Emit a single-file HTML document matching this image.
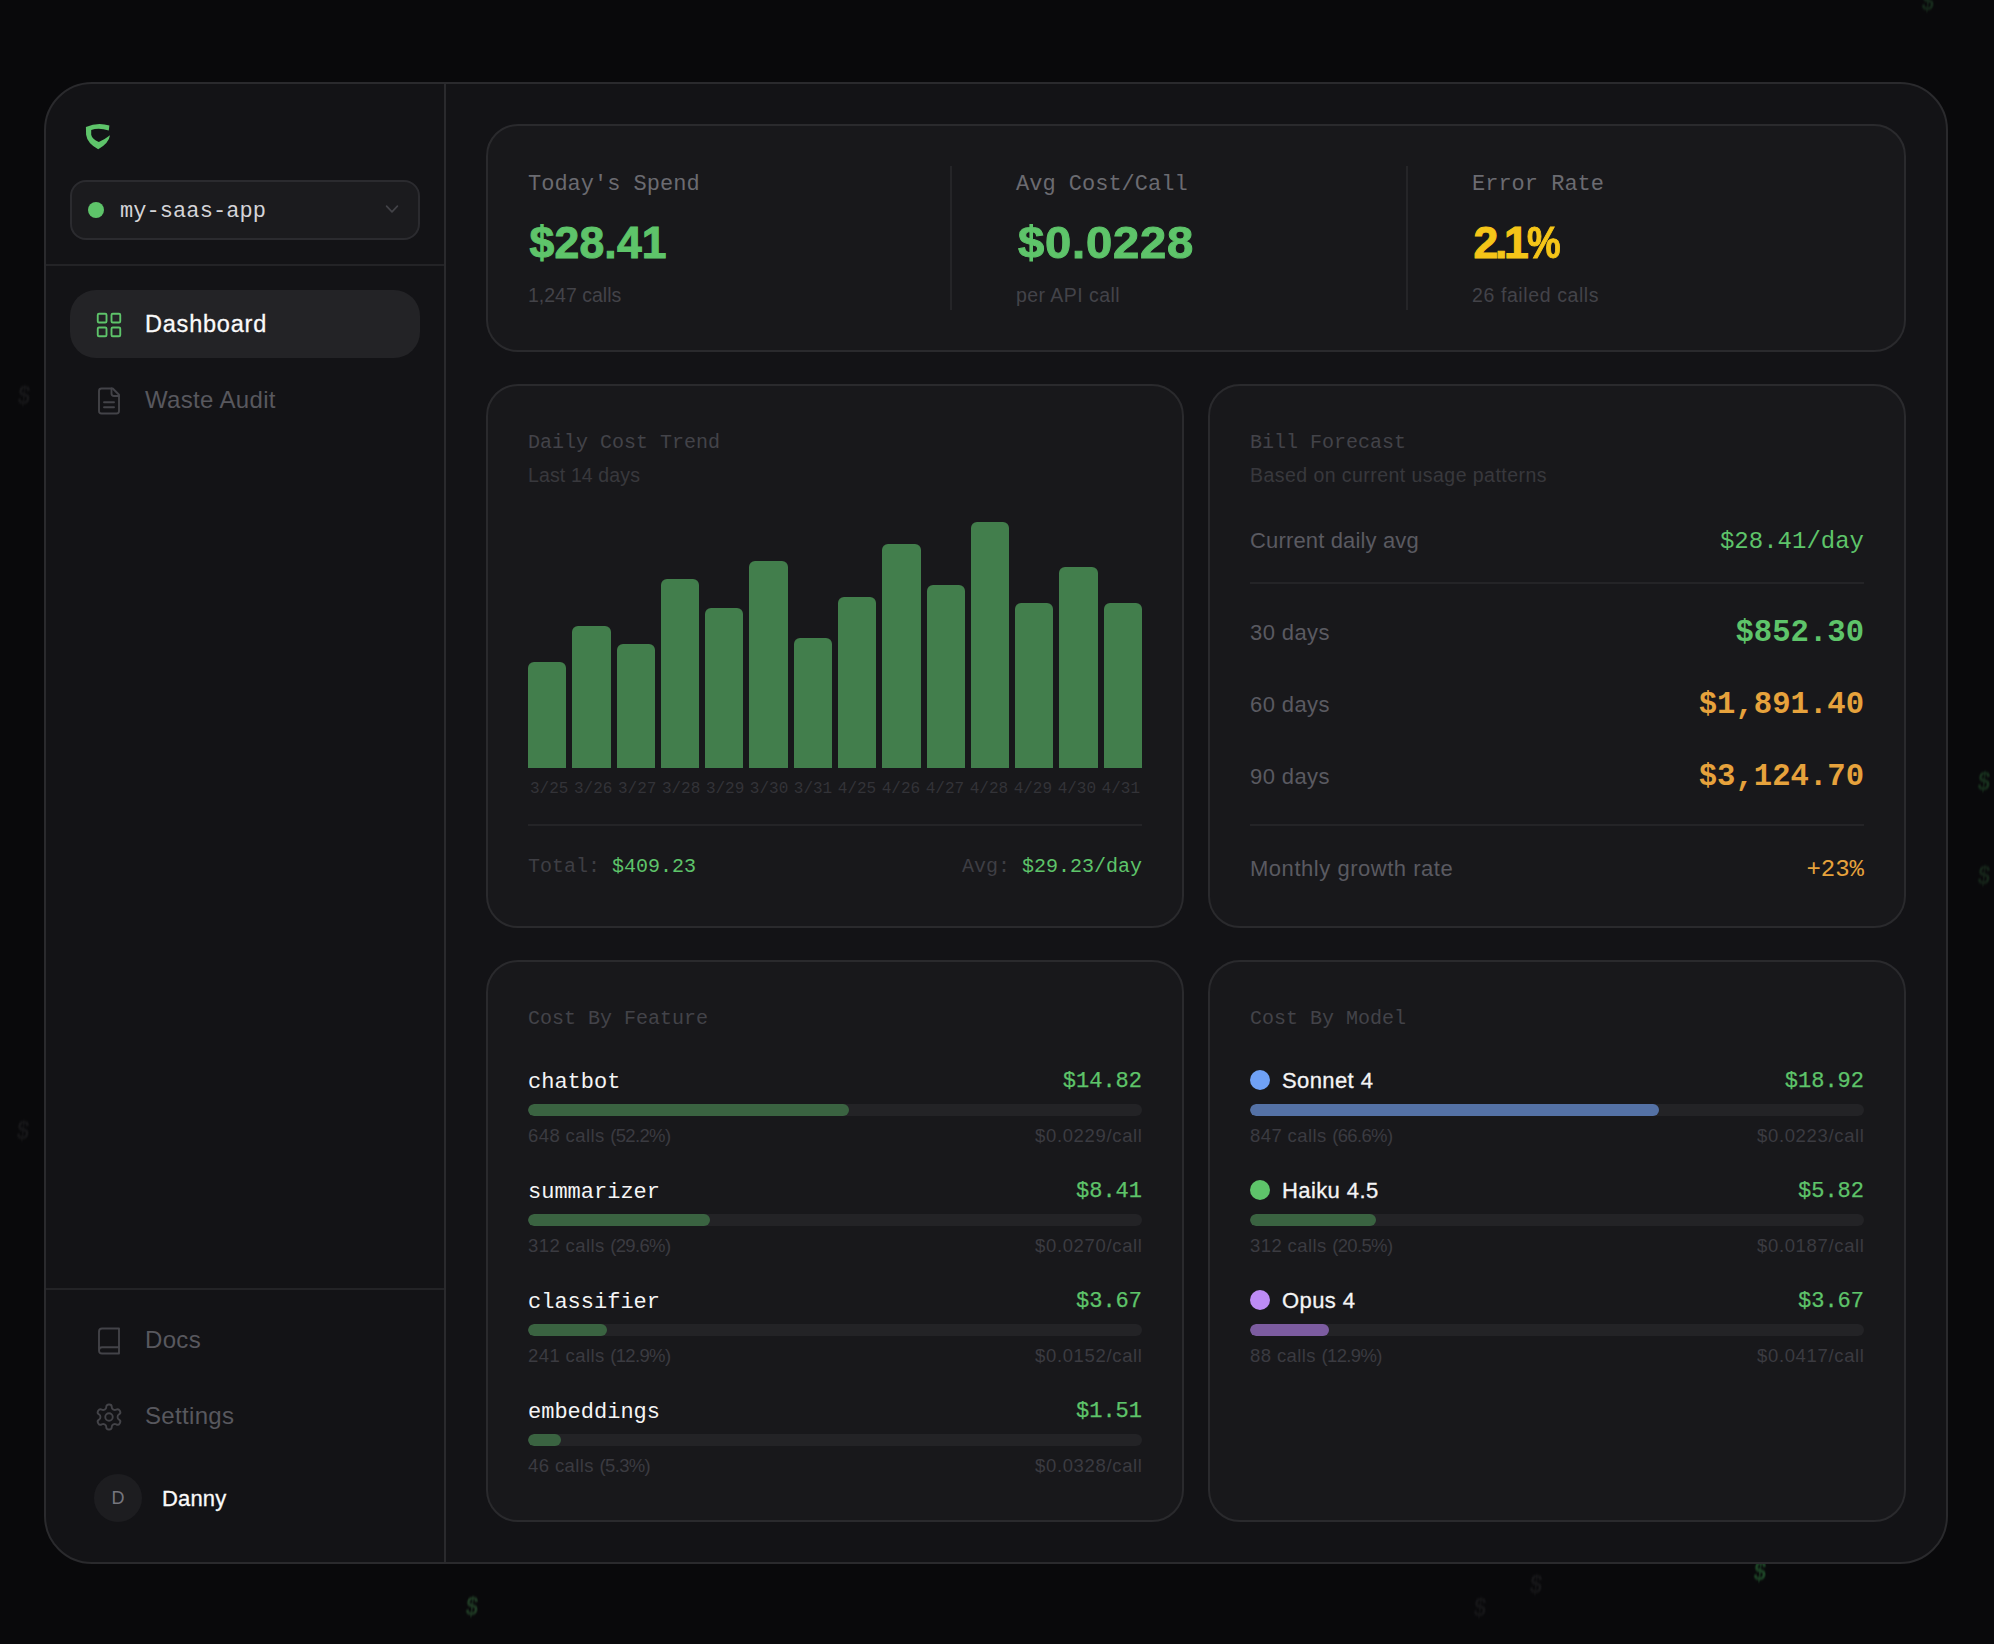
<!DOCTYPE html>
<html lang="en">
<head>
<meta charset="utf-8">
<title>Dashboard</title>
<style>
*{box-sizing:border-box;margin:0;padding:0}
html,body{width:1994px;height:1644px;overflow:hidden;background:#09090b}
body{position:relative;font-family:"Liberation Sans",Arial,sans-serif;color:#fff;-webkit-font-smoothing:antialiased}
.mono{font-family:"Liberation Mono","DejaVu Sans Mono",monospace}
.abs{position:absolute}
.bgd{position:absolute;font-weight:700;font-size:25px;line-height:24px;width:20px;height:24px;text-align:center;filter:blur(.8px);transform:skewX(-6deg) scaleX(.88)}
#panel{position:absolute;left:44px;top:82px;width:1904px;height:1482px;border:2px solid #2a2a2d;border-radius:48px;background:#131316;overflow:hidden}
/* coordinates inside #panel are relative to its padding box: page x-46, y-84 */
#side{position:absolute;left:0;top:0;width:400px;height:1478px;border-right:2px solid #2a2a2d}
.hr{position:absolute;left:0;width:398px;height:2px;background:#232326}
#sel{position:absolute;left:24px;top:96px;width:350px;height:60px;border:2px solid #2b2b2f;border-radius:16px;background:#1b1b1e}
#sel .dot{position:absolute;left:16px;top:20px;width:16px;height:16px;border-radius:50%;background:#5ec46a}
#sel .nm{position:absolute;left:48px;top:17px;font-size:22px;line-height:26px;color:#d4d4d8;letter-spacing:0.07px}
.nav{position:absolute;left:24px;width:350px;height:68px;border-radius:26px}
.nav.on{background:#232326}
.nav svg{position:absolute;left:24px;top:19.6px}
.nav .t{position:absolute;left:75px;top:20px;font-size:24px;line-height:28px;color:#58585e;white-space:nowrap;letter-spacing:.33px}
.nav.on .t{color:#fafafa;font-size:23.5px;letter-spacing:.78px;-webkit-text-stroke:.3px #fafafa}
.card{position:absolute;border:2px solid #2a2a2d;border-radius:32px;background:#18181b}
.lbl{position:absolute;font-size:22px;line-height:26px;color:#6b6b71;white-space:nowrap}
.val{position:absolute;font-size:44.5px;line-height:50px;font-weight:700;color:#5ec46a;white-space:nowrap;letter-spacing:.2px;-webkit-text-stroke:1px #5ec46a}
.sub{position:absolute;font-size:19.5px;line-height:24px;color:#434349;white-space:nowrap}
.vr{position:absolute;width:2px;background:#252528}
.ttl{position:absolute;left:40px;font-size:20px;line-height:24px;color:#434349;white-space:nowrap}
.stt{position:absolute;left:40px;font-size:19.5px;line-height:24px;color:#38383d;white-space:nowrap}
.hl{position:absolute;left:40px;width:614px;height:2px;background:#242427}
.g{color:#5ec46a}.o{color:#e6a23c}
#bars{position:absolute;left:40px;top:126px;width:614px;height:256px;display:flex;align-items:flex-end;gap:6px}
#bars i{display:block;flex:1;background:#427e4c;border-radius:6px 6px 0 0}
#dates{position:absolute;left:42px;top:393px;width:610px;display:flex;justify-content:space-between;font-size:16px;line-height:20px;color:#333338}
#dates b{font-weight:400;text-align:center;white-space:nowrap}
.ft{position:absolute;font-size:20px;line-height:24px;color:#3e3e44;white-space:nowrap}
.rl{position:absolute;left:40px;font-size:22px;line-height:28px;color:#5a5a61;white-space:nowrap}
.rv{position:absolute;right:40px;font-size:24px;line-height:28px;white-space:nowrap}
.rb{position:absolute;right:40px;font-size:30.6px;line-height:36px;font-weight:700;white-space:nowrap}
.row{position:absolute;left:40px;width:614px;height:90px}
.row .n{position:absolute;left:0;top:3px;font-size:22px;line-height:28px;color:#f4f4f5;white-space:nowrap}
.row .n.m{left:32px;top:1px;font-weight:400;letter-spacing:.4px;-webkit-text-stroke:.3px #f4f4f5}
.row em{position:absolute;left:0;top:4px;width:20px;height:20px;border-radius:50%}
.row .p{position:absolute;right:0;top:2px;font-size:22px;line-height:28px;color:#5ec46a;white-space:nowrap;-webkit-text-stroke:.25px #5ec46a}
.row .tr{position:absolute;left:0;top:38px;width:614px;height:12px;border-radius:6px;background:#232326;overflow:hidden}
.row .tr u{display:block;height:12px;border-radius:6px;background:#3a6341;text-decoration:none}
.row .c{position:absolute;left:0;top:57.5px;font-size:18.5px;line-height:24px;color:#3b3b41;white-space:nowrap;letter-spacing:.4px}
.row .pc{position:absolute;right:-.6px;top:57.5px;font-size:18.5px;line-height:24px;color:#3b3b41;white-space:nowrap;letter-spacing:.65px}
.row .c s{text-decoration:none;letter-spacing:-.64px}
</style>
</head>
<body>
<div class="bgd" style="left:14px;top:383px;color:#161618">$</div>
<div class="bgd" style="left:13px;top:1118px;color:#161618">$</div>
<div class="bgd" style="left:462px;top:1594px;color:#1f3a24">$</div>
<div class="bgd" style="left:1918px;top:-11px;color:#16291b">$</div>
<div class="bgd" style="left:1974px;top:769px;color:#17301d">$</div>
<div class="bgd" style="left:1974px;top:863px;color:#152419">$</div>
<div class="bgd" style="left:1750px;top:1559px;color:#1d4426">$</div>
<div class="bgd" style="left:1526px;top:1572px;color:#161618">$</div>
<div class="bgd" style="left:1470px;top:1595px;color:#151517">$</div>
<div id="panel">
  <div id="side">
    <svg class="abs" style="left:39px;top:38.7px" width="26" height="28" viewBox="0 0 26 28"><path fill="#5ec46a" d="M0.9 3.9 Q13 -1.1 24.4 2.6 L23.8 7.4 Q13.2 4.1 6.2 7.1 L6.2 11.7 Q7.1 16 13.8 19 Q20.5 16 25 12.3 Q24 20.2 13.2 26.3 Q2.2 20.2 1.1 11.7 Z"/></svg>
    <div id="sel"><span class="dot"></span><span class="nm mono">my-saas-app</span>
      <svg class="abs" style="left:312px;top:21px" width="16" height="12" viewBox="0 0 16 12"><path d="M2.6 3.2 L8 8.8 L13.4 3.2" fill="none" stroke="#424247" stroke-width="1.7" stroke-linecap="round" stroke-linejoin="round"/></svg>
    </div>
    <div class="hr" style="top:180px"></div>
    <div class="nav on" style="top:206px">
      <svg width="30" height="30" viewBox="0 0 24 24" fill="none" stroke="#5ec46a" stroke-width="1.5" stroke-linejoin="round"><rect x="3" y="3" width="7" height="7" rx="1"/><rect x="14" y="3" width="7" height="7" rx="1"/><rect x="14" y="14" width="7" height="7" rx="1"/><rect x="3" y="14" width="7" height="7" rx="1"/></svg>
      <span class="t">Dashboard</span>
    </div>
    <div class="nav" style="top:282px">
      <svg width="30" height="30" viewBox="0 0 24 24" fill="none" stroke="#434348" stroke-width="1.5" stroke-linecap="round" stroke-linejoin="round"><path d="M15 2H6a2 2 0 0 0-2 2v16a2 2 0 0 0 2 2h12a2 2 0 0 0 2-2V7Z"/><path d="M14 2v4a2 2 0 0 0 2 2h4"/><path d="M16 13H8"/><path d="M16 17H8"/></svg>
      <span class="t">Waste Audit</span>
    </div>
    <div class="hr" style="top:1204px"></div>
    <div class="nav" style="top:1222px">
      <svg width="30" height="30" viewBox="0 0 24 24" fill="none" stroke="#434348" stroke-width="1.5" stroke-linecap="round" stroke-linejoin="round"><path d="M4 19.5v-15A2.5 2.5 0 0 1 6.5 2H20v20H6.5a2.5 2.5 0 0 1 0-5H20"/></svg>
      <span class="t">Docs</span>
    </div>
    <div class="nav" style="top:1298px">
      <svg width="30" height="30" viewBox="0 0 24 24" fill="none" stroke="#434348" stroke-width="1.5" stroke-linecap="round" stroke-linejoin="round"><path d="M12.22 2h-.44a2 2 0 0 0-2 2v.18a2 2 0 0 1-1 1.73l-.43.25a2 2 0 0 1-2 0l-.15-.08a2 2 0 0 0-2.73.73l-.22.38a2 2 0 0 0 .73 2.73l.15.1a2 2 0 0 1 1 1.72v.51a2 2 0 0 1-1 1.74l-.15.09a2 2 0 0 0-.73 2.73l.22.38a2 2 0 0 0 2.73.73l.15-.08a2 2 0 0 1 2 0l.43.25a2 2 0 0 1 1 1.73V20a2 2 0 0 0 2 2h.44a2 2 0 0 0 2-2v-.18a2 2 0 0 1 1-1.73l.43-.25a2 2 0 0 1 2 0l.15.08a2 2 0 0 0 2.73-.73l.22-.39a2 2 0 0 0-.73-2.73l-.15-.08a2 2 0 0 1-1-1.74v-.5a2 2 0 0 1 1-1.74l.15-.09a2 2 0 0 0 .73-2.73l-.22-.38a2 2 0 0 0-2.73-.73l-.15.08a2 2 0 0 1-2 0l-.43-.25a2 2 0 0 1-1-1.73V4a2 2 0 0 0-2-2z"/><circle cx="12" cy="12" r="3"/></svg>
      <span class="t">Settings</span>
    </div>
    <div class="abs" style="left:48px;top:1390px;width:48px;height:48px;border-radius:50%;background:#1d1d20;color:#76767e;font-size:18px;line-height:48px;text-align:center">D</div>
    <div class="abs" style="left:116px;top:1400.7px;font-size:22px;line-height:28px;color:#fafafa;letter-spacing:.15px;-webkit-text-stroke:.3px #fafafa">Danny</div>
  </div>
  <div id="main" class="abs" style="left:400px;top:0;width:1500px;height:1478px">
    <!-- stats -->
    <div class="card" style="left:40px;top:40px;width:1420px;height:228px">
      <div class="lbl mono" style="left:40px;top:46px">Today's Spend</div>
      <div class="val" style="left:41.5px;top:92.2px">$28.41</div>
      <div class="sub" style="left:40px;top:157px">1,247 calls</div>
      <div class="vr" style="left:462px;top:40px;height:144px"></div>
      <div class="lbl mono" style="left:528px;top:46px">Avg Cost/Call</div>
      <div class="val" style="left:529.5px;top:92.2px;letter-spacing:.75px;transform:scaleX(1.06);transform-origin:0 50%">$0.0228</div>
      <div class="sub" style="left:528px;top:157px;letter-spacing:.45px">per API call</div>
      <div class="vr" style="left:918px;top:40px;height:144px"></div>
      <div class="lbl mono" style="left:984px;top:46px">Error Rate</div>
      <div class="val" style="left:985.5px;top:92.2px;-webkit-text-stroke-color:#f5c518;color:#f5c518;letter-spacing:-3.3px">2.1<span style="display:inline-block;transform:scaleX(.85);transform-origin:0 50%;letter-spacing:0;margin-left:2px">%</span></div>
      <div class="sub" style="left:984px;top:157px;letter-spacing:.6px">26 failed calls</div>
    </div>
    <!-- chart -->
    <div class="card" style="left:40px;top:300px;width:698px;height:544px">
      <div class="ttl mono" style="top:45px">Daily Cost Trend</div>
      <div class="stt" style="top:77px;letter-spacing:.12px">Last 14 days</div>
      <div id="bars">
        <i style="height:106px"></i><i style="height:142px"></i><i style="height:124px"></i><i style="height:189px"></i><i style="height:160px"></i><i style="height:207px"></i><i style="height:130px"></i><i style="height:171px"></i><i style="height:224px"></i><i style="height:183px"></i><i style="height:246px"></i><i style="height:165px"></i><i style="height:201px"></i><i style="height:165px"></i>
      </div>
      <div id="dates" class="mono"><b>3/25</b><b>3/26</b><b>3/27</b><b>3/28</b><b>3/29</b><b>3/30</b><b>3/31</b><b>4/25</b><b>4/26</b><b>4/27</b><b>4/28</b><b>4/29</b><b>4/30</b><b>4/31</b></div>
      <div class="hl" style="top:438px"></div>
      <div class="ft mono" style="left:40px;top:469px">Total: <span class="g">$409.23</span></div>
      <div class="ft mono" style="right:40px;top:469px">Avg: <span class="g">$29.23/day</span></div>
    </div>
    <!-- forecast -->
    <div class="card" style="left:762px;top:300px;width:698px;height:544px">
      <div class="ttl mono" style="top:45px">Bill Forecast</div>
      <div class="stt" style="top:77px;letter-spacing:.45px">Based on current usage patterns</div>
      <div class="rl" style="top:141px;letter-spacing:.15px">Current daily avg</div>
      <div class="rv mono g" style="top:142px">$28.41/day</div>
      <div class="hl" style="top:196px"></div>
      <div class="rl" style="top:233px;letter-spacing:.4px">30 days</div>
      <div class="rb mono g" style="top:229px">$852.30</div>
      <div class="rl" style="top:305px;letter-spacing:.4px">60 days</div>
      <div class="rb mono o" style="top:301px">$1,891.40</div>
      <div class="rl" style="top:377px;letter-spacing:.4px">90 days</div>
      <div class="rb mono o" style="top:373px">$3,124.70</div>
      <div class="hl" style="top:438px"></div>
      <div class="rl" style="top:469px;letter-spacing:.53px">Monthly growth rate</div>
      <div class="rv mono o" style="top:470px">+23%</div>
    </div>
    <!-- features -->
    <div class="card" style="left:40px;top:876px;width:698px;height:562px">
      <div class="ttl mono" style="top:45px">Cost By Feature</div>
      <div class="row" style="top:104px"><span class="n mono">chatbot</span><span class="p mono">$14.82</span><div class="tr"><u style="width:52.2%"></u></div><span class="c">648 calls <s>(52.2%)</s></span><span class="pc">$0.0229/call</span></div>
      <div class="row" style="top:214px"><span class="n mono">summarizer</span><span class="p mono">$8.41</span><div class="tr"><u style="width:29.6%"></u></div><span class="c">312 calls <s>(29.6%)</s></span><span class="pc">$0.0270/call</span></div>
      <div class="row" style="top:324px"><span class="n mono">classifier</span><span class="p mono">$3.67</span><div class="tr"><u style="width:12.9%"></u></div><span class="c">241 calls <s>(12.9%)</s></span><span class="pc">$0.0152/call</span></div>
      <div class="row" style="top:434px"><span class="n mono">embeddings</span><span class="p mono">$1.51</span><div class="tr"><u style="width:5.3%"></u></div><span class="c">46 calls <s>(5.3%)</s></span><span class="pc">$0.0328/call</span></div>
    </div>
    <!-- models -->
    <div class="card" style="left:762px;top:876px;width:698px;height:562px">
      <div class="ttl mono" style="top:45px">Cost By Model</div>
      <div class="row" style="top:104px"><em style="background:#6fa1f6"></em><span class="n m">Sonnet 4</span><span class="p mono">$18.92</span><div class="tr"><u style="width:66.6%;background:#5471a5"></u></div><span class="c">847 calls <s>(66.6%)</s></span><span class="pc">$0.0223/call</span></div>
      <div class="row" style="top:214px"><em style="background:#5ec46a"></em><span class="n m">Haiku 4.5</span><span class="p mono">$5.82</span><div class="tr"><u style="width:20.5%"></u></div><span class="c">312 calls <s>(20.5%)</s></span><span class="pc">$0.0187/call</span></div>
      <div class="row" style="top:324px"><em style="background:#bd8bf5"></em><span class="n m">Opus 4</span><span class="p mono">$3.67</span><div class="tr"><u style="width:12.9%;background:#7c5ca0"></u></div><span class="c">88 calls <s>(12.9%)</s></span><span class="pc">$0.0417/call</span></div>
    </div>
  </div>
</div>
</body>
</html>
